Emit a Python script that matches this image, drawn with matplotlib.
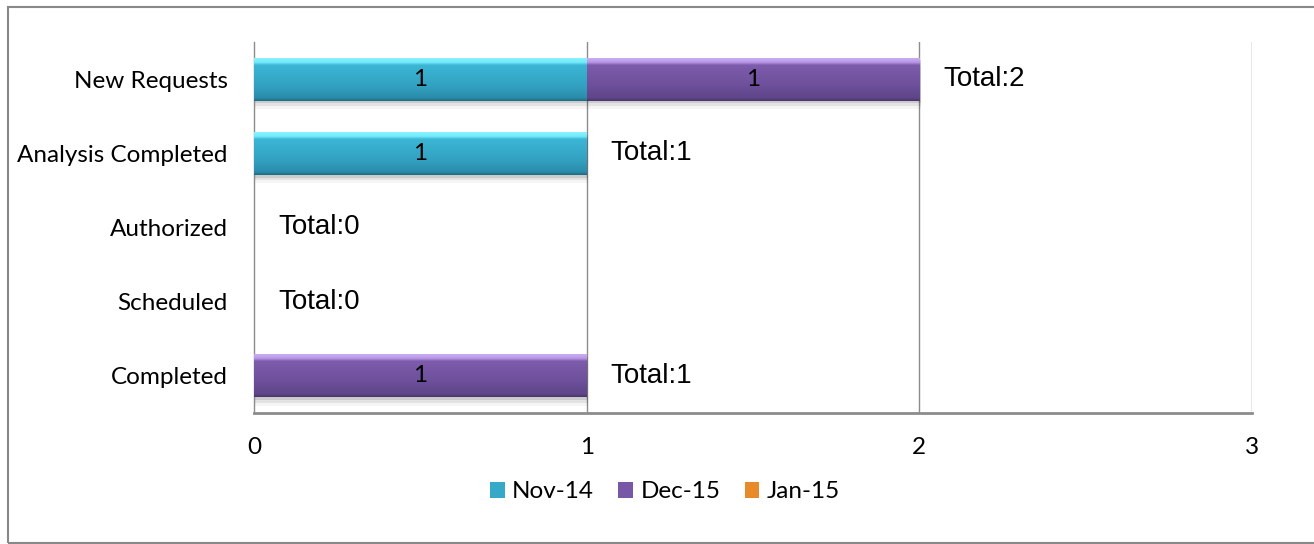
import numpy as np
import matplotlib
matplotlib.use("Agg")
import matplotlib.pyplot as plt
from matplotlib.colors import LinearSegmentedColormap
from matplotlib.patches import Patch, Rectangle
import matplotlib.patheffects as pe

# Pipeline stages and monthly counts
categories = ["New Requests", "Analysis Completed", "Authorized", "Scheduled", "Completed"]
series_names = ["Nov-14", "Dec-15", "Jan-15"]
nov_14 = [1, 1, 0, 0, 0]
dec_15 = [1, 0, 0, 0, 1]
jan_15 = [0, 0, 0, 0, 0]
x_ticks = [0, 1, 2, 3]

series_values = [nov_14, dec_15, jan_15]
base_colors = ["#36a9c9", "#7857a6", "#e8892a"]
# vertical shading stops (bottom -> top) giving a bevelled look
shade_stops = [
    ["#1d6a80", "#2b8cab", "#33a2c2", "#38aecd", "#3cb6d5", "#72eafa", "#8ef6ff"],
    ["#4a356c", "#5f4589", "#6d4f9b", "#7858a6", "#7d5cab", "#b895e6", "#cfb2f5"],
    ["#8a4a10", "#c06a1c", "#d67a24", "#e8892a", "#ee9232", "#f8c070", "#ffd590"],
]
stop_pos = [0.0, 0.07, 0.35, 0.65, 0.82, 0.88, 1.0]

UI_FONT = "Lato"
UI_SIZE = 17.5
VAL_FONT = "Liberation Sans"
VAL_SIZE = 20
GRID = "#8c8c8c"

fig = plt.figure(figsize=(13.14, 5.44), dpi=100)
ax = fig.add_axes([254 / 1314, 1 - 413 / 544, 998 / 1314, 371 / 544])

n = len(categories)
ypos = np.arange(n)[::-1].astype(float)
bar_h = 0.58

ax.set_xlim(x_ticks[0], x_ticks[-1])
ax.set_ylim(-0.5, n - 0.5)

# vertical gridlines
for xt in x_ticks[1:]:
    ax.axvline(xt, color=GRID, lw=1.0, zorder=1)

left = np.zeros(n)
for vals, name, col, stops in zip(series_values, series_names, base_colors, shade_stops):
    vals = np.asarray(vals, dtype=float)
    bars = ax.barh(ypos, vals, height=bar_h, left=left, color=col, label=name,
                   edgecolor="none", zorder=3)
    cmap = LinearSegmentedColormap.from_list(name, list(zip(stop_pos, stops)))
    grad = np.linspace(0, 1, 200).reshape(-1, 1)
    for rect, v in zip(bars.patches, vals):
        if v <= 0:
            continue
        x0, y0 = rect.get_x(), rect.get_y()
        w, h = rect.get_width(), rect.get_height()
        # soft drop shadow
        rect.set_path_effects([
            pe.SimplePatchShadow(offset=(1, -2), shadow_rgbFace="#000000", alpha=0.10),
            pe.SimplePatchShadow(offset=(1, -4), shadow_rgbFace="#000000", alpha=0.07),
            pe.SimplePatchShadow(offset=(1, -6), shadow_rgbFace="#000000", alpha=0.04),
            pe.Normal(),
        ])
        im = ax.imshow(grad, cmap=cmap, origin="lower", aspect="auto",
                       extent=(x0, x0 + w, y0, y0 + h), zorder=4,
                       interpolation="bilinear")
        im.set_clip_path(rect)
        ax.text(x0 + w / 2, y0 + h / 2, f"{int(v)}", ha="center", va="center",
                fontsize=UI_SIZE, family=UI_FONT, color="black", zorder=6)
    left = left + vals

# totals beside each stack
totals = np.sum(series_values, axis=0)
for y, t in zip(ypos, totals):
    ax.annotate(f"Total:{int(t)}", xy=(t, y), xytext=(24, 0),
                textcoords="offset pixels",
                ha="left", va="center", fontsize=VAL_SIZE, family=VAL_FONT,
                color="black", zorder=6)

ax.set_yticks(ypos)
ax.set_yticklabels(categories, fontsize=UI_SIZE, family=UI_FONT)
ax.set_xticks(x_ticks)
ax.set_xticklabels([str(t) for t in x_ticks], fontsize=UI_SIZE, family=UI_FONT)
ax.tick_params(axis="both", length=0)
ax.tick_params(axis="y", pad=19)
ax.tick_params(axis="x", pad=17)

for s in ["top", "right"]:
    ax.spines[s].set_visible(False)
ax.spines["left"].set_color(GRID)
ax.spines["left"].set_linewidth(1.0)
ax.spines["bottom"].set_color(GRID)
ax.spines["bottom"].set_linewidth(2.0)
ax.spines["bottom"].set_zorder(5)

handles = [Patch(facecolor=c, edgecolor="none") for c in base_colors]
fig.legend(handles, series_names, loc="center", bbox_to_anchor=(665 / 1314, 1 - 492 / 544),
           ncol=3, frameon=False, prop={"family": UI_FONT, "size": UI_SIZE},
           handlelength=0.6, handleheight=0.6, handletextpad=0.3, columnspacing=1.0)

# chart border
fig.patches.append(Rectangle((8 / 1314, 1 / 544), 1.2, 536 / 544, transform=fig.transFigure,
                             fill=False, edgecolor="#888888", lw=1.5))

fig.savefig("out.png", dpi=100, facecolor="white")
